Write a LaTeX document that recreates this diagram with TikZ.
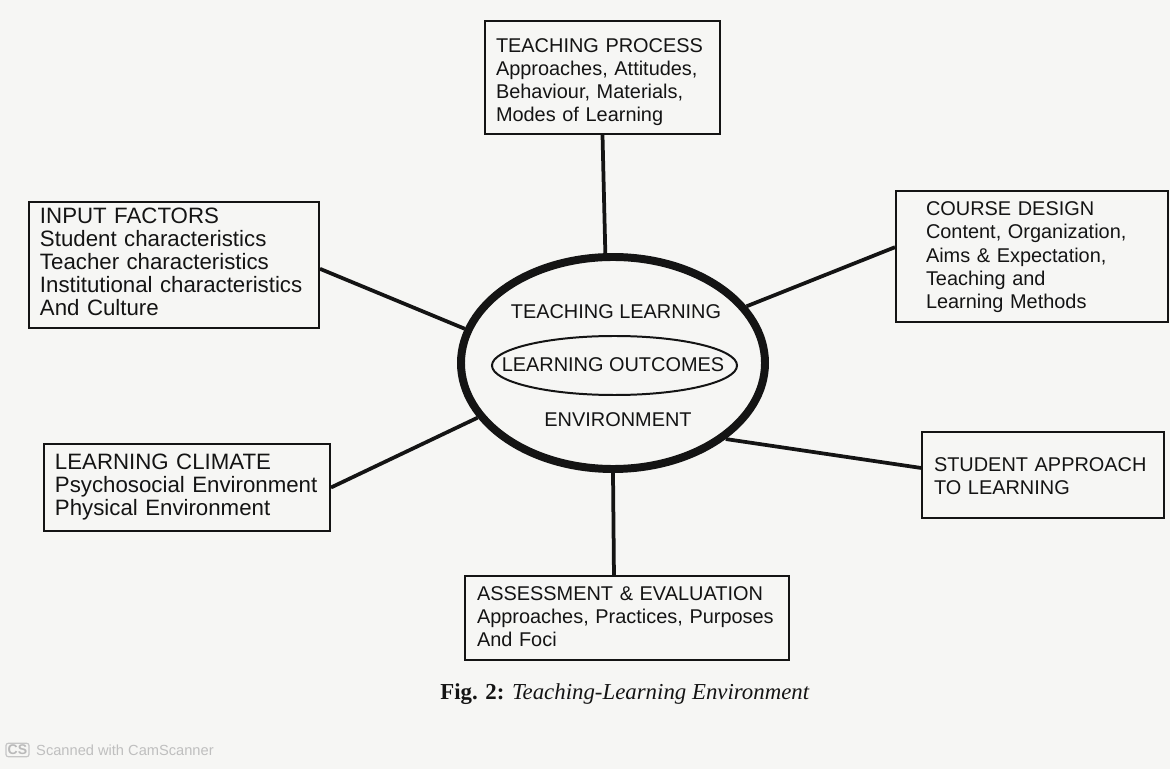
\documentclass[tikz,border=0pt]{standalone}
\usepackage{fontspec}
\setmainfont{Liberation Sans}
\newfontfamily\capfont{Liberation Serif}
\usetikzlibrary{shapes.geometric,calc}
\newcommand{\mylines}[2][0cm]{\raisebox{-#1}[\height][\depth]{\begin{tabular}{@{}l@{}}#2\end{tabular}}}
\definecolor{bgcol}{RGB}{246,246,244}
\definecolor{inkcol}{RGB}{20,20,20}
\begin{document}
\begin{tikzpicture}[x=0.03cm,y=-0.03cm,
  box/.style={draw=inkcol, line width=1.7pt, rectangle, anchor=north west, align=left,
    inner ysep=0pt, text=inkcol, font=\fontsize{17}{19.8}\selectfont},
  bigfont/.style={font=\fontsize{19}{19.6}\selectfont},
  link/.style={draw=inkcol, line width=3.2pt},
  lbl/.style={text=inkcol, inner sep=0pt, font=\fontsize{17}{19.8}\selectfont},
  ]
\fill[bgcol] (0,0) rectangle (1170,769);
\useasboundingbox (0,0) rectangle (1170,769);

% boxes
\node[box, text width=6.39cm, inner xsep=0.33cm, minimum height=3.39cm] (tp) at (484,20)
  {\mylines[0.15cm]{TEACHING PROCESS\\ Approaches, Attitudes,\\ Behaviour, Materials,\\ Modes of Learning}};
\node[box, bigfont, text width=8.04cm, inner xsep=0.33cm, minimum height=3.78cm] (if) at (28,201)
  {\mylines{INPUT FACTORS\\ Student characteristics\\ Teacher characteristics\\ Institutional characteristics\\ And Culture}};
\node[box, text width=6.36cm, inner xsep=0.9cm, minimum height=3.93cm] (cd) at (895,190)
  {\mylines[0.03cm]{COURSE DESIGN\\ Content, Organization,\\ Aims \& Expectation,\\ Teaching and\\ Learning Methods}};
\node[box, bigfont, text width=7.92cm, inner xsep=0.33cm, minimum height=2.61cm] (lc) at (43,443)
  {\mylines{LEARNING CLIMATE\\ Psychosocial Environment\\ Physical Environment}};
\node[box, text width=6.54cm, inner xsep=0.36cm, minimum height=2.58cm] (sa) at (921,431)
  {\mylines[0.09cm]{STUDENT APPROACH\\ TO LEARNING}};
\node[box, text width=9.0cm, inner xsep=0.36cm, minimum height=2.52cm] (ae) at (464,575)
  {\mylines[0.03cm]{ASSESSMENT \& EVALUATION\\ Approaches, Practices, Purposes\\ And Foci}};

% central ellipse
\node[ellipse, draw=inkcol, line width=6.8pt, inner sep=0pt,
      minimum width=9.12cm, minimum height=6.36cm] (env) at (613,363) {};
\node[ellipse, draw=inkcol, line width=1.7pt, inner sep=0pt,
      minimum width=7.35cm, minimum height=1.77cm] (lo) at (614.5,365.5) {};
\node[lbl] (lot) at (613,364.5) {LEARNING OUTCOMES};
\node[lbl] (tl) at (616,312) {TEACHING LEARNING};
\node[lbl] (en) at (618,420) {ENVIRONMENT};

% connectors
\draw[link] (tp.south) -- (env.94);
\draw[link] ($(if.north east)!0.53!(if.south east)$) -- (env.167);
\draw[link] ($(cd.north west)!0.43!(cd.south west)$) -- (env.23.3);
\draw[link] (lc.east) -- (env.202.4);
\draw[link] ($(sa.north west)!0.42!(sa.south west)$) -- (env.326.4);
\draw[link] ($(ae.north west)!0.46!(ae.north east)$) -- (env.270);

% caption
\node[text=inkcol, inner sep=0pt] (cap) at (625,694)
  {\capfont\fontsize{19.5}{22}\selectfont\textbf{Fig. 2:} \textit{Teaching-Learning Environment}};

% scanner mark
\node[draw=gray!45, rounded corners=2pt, line width=1pt, text=gray!55, inner sep=1.5pt,
      font=\fontsize{12}{14}\selectfont\bfseries] (csicon) at (17.5,750) {CS};
\node[anchor=west, text=gray!50, inner sep=0pt, font=\fontsize{12.5}{14}\selectfont] (csmark)
  at (36,750) {Scanned with CamScanner};
\end{tikzpicture}
\end{document}
